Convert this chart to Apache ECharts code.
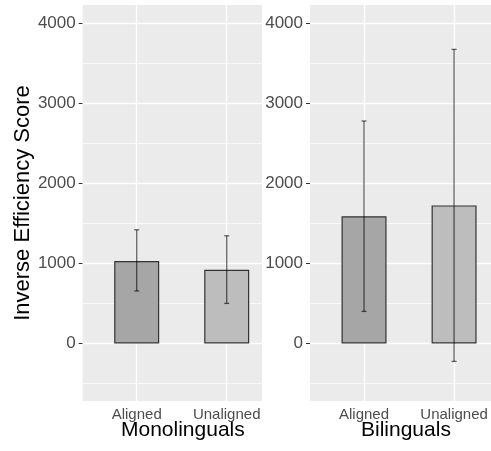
<!DOCTYPE html>
<html><head><meta charset="utf-8">
<script src="https://cdn.jsdelivr.net/npm/echarts@6.0.0/dist/echarts.min.js"></script>
<style>html,body{margin:0;padding:0;background:#fff}#c{width:491px;height:451px}</style>
</head><body><div id="c"></div>
<script>
const categories = ['Aligned', 'Unaligned'];
const panelNames = ['Monolinguals', 'Bilinguals'];
const monoMeans = [1030, 920];
const monoLower = [655, 500];
const monoUpper = [1420, 1345];
const biMeans = [1590, 1725];
const biLower = [400, -225];
const biUpper = [2780, 3675];
const yTickValues = [0, 1000, 2000, 3000, 4000];
const yMinorValues = [-500, 500, 1500, 2500, 3500];

const fills = ['#A6A6A6', '#BDBDBD'];
const panels = [
  {means: monoMeans, lower: monoLower, upper: monoUpper},
  {means: biMeans, lower: biLower, upper: biUpper}
];
const font = 'Liberation Sans, Arial, sans-serif';
const chart = echarts.init(document.getElementById('c'));

const grids = [
  {left: 82.7, top: 5, width: 179.3, height: 396},
  {left: 310, top: 5, width: 181, height: 396}
].map(g => Object.assign(g, {show: true, backgroundColor: '#EBEBEB', borderWidth: 0, containLabel: false}));

const catPos = categories.map((c, j) => j + 1);
const xMax = [2.392, 2.41];

const xAxes = panels.map((p, i) => ({
  type: 'value', gridIndex: i, min: 0.4, max: xMax[i],
  axisLine: {show: false},
  splitLine: {show: false},
  axisTick: {show: true, customValues: catPos, length: 4, lineStyle: {color: '#333', width: 1}},
  axisLabel: {customValues: catPos, formatter: v => categories[Math.round(v) - 1] || '',
    fontSize: 15, color: '#4D4D4D', margin: 6, fontFamily: font}
}));

const yAxes = panels.map((p, i) => ({
  type: 'value', gridIndex: i, min: -720, max: 4230,
  axisLine: {show: false},
  splitLine: {show: false},
  axisTick: {show: true, customValues: yTickValues, length: 4, lineStyle: {color: '#333', width: 1}},
  axisLabel: {customValues: yTickValues, formatter: v => String(v), fontSize: 17, color: '#4D4D4D', margin: 7, fontFamily: font},
  name: i === 0 ? 'Inverse Efficiency Score' : '',
  nameLocation: 'middle', nameGap: 45,
  nameTextStyle: {fontSize: 22, color: '#000', fontFamily: font}
}));

const series = [];
panels.forEach((p, i) => {
  const mlData = [];
  yMinorValues.forEach(v => mlData.push({yAxis: v, lineStyle: {color: '#fff', width: 0.7, type: 'solid'}}));
  yTickValues.forEach(v => mlData.push({yAxis: v, lineStyle: {color: '#fff', width: 1.3, type: 'solid'}}));
  catPos.forEach(v => mlData.push({xAxis: v, lineStyle: {color: '#fff', width: 1.3, type: 'solid'}}));
  series.push({
    type: 'line', xAxisIndex: i, yAxisIndex: i, data: [], z: 1, silent: true,
    markLine: {z: 1, silent: true, symbol: ['none', 'none'], label: {show: false}, animation: false, data: mlData}
  });
  series.push({
    type: 'bar', xAxisIndex: i, yAxisIndex: i, z: 2, barWidth: 45,
    itemStyle: {borderColor: '#333', borderWidth: 1.2},
    data: p.means.map((m, j) => ({value: [catPos[j], m], itemStyle: {color: fills[j]}}))
  });
  series.push({
    type: 'custom', xAxisIndex: i, yAxisIndex: i, z: 3, silent: true,
    data: p.means.map((m, j) => [catPos[j], p.lower[j], p.upper[j]]),
    renderItem: (params, api) => {
      const a = api.coord([api.value(0), api.value(1)]);
      const b = api.coord([api.value(0), api.value(2)]);
      const h = 2.5;
      const st = {stroke: 'rgba(0,0,0,0.6)', lineWidth: 1.3};
      return {type: 'group', children: [
        {type: 'line', shape: {x1: a[0], y1: a[1], x2: b[0], y2: b[1]}, style: st},
        {type: 'line', shape: {x1: a[0] - h, y1: a[1], x2: a[0] + h, y2: a[1]}, style: st},
        {type: 'line', shape: {x1: b[0] - h, y1: b[1], x2: b[0] + h, y2: b[1]}, style: st}
      ]};
    }
  });
});

chart.setOption({
  animation: false,
  textStyle: {fontFamily: font},
  grid: grids,
  xAxis: xAxes,
  yAxis: yAxes,
  series: series,
  graphic: [
    {type: 'text', left: 184 - 63, top: 420, style: {text: panelNames[0], fontSize: 21, fill: '#000', fontFamily: font}},
    {type: 'text', left: 408 - 47, top: 420, style: {text: panelNames[1], fontSize: 21, fill: '#000', fontFamily: font}}
  ]
});
</script>
</body></html>
